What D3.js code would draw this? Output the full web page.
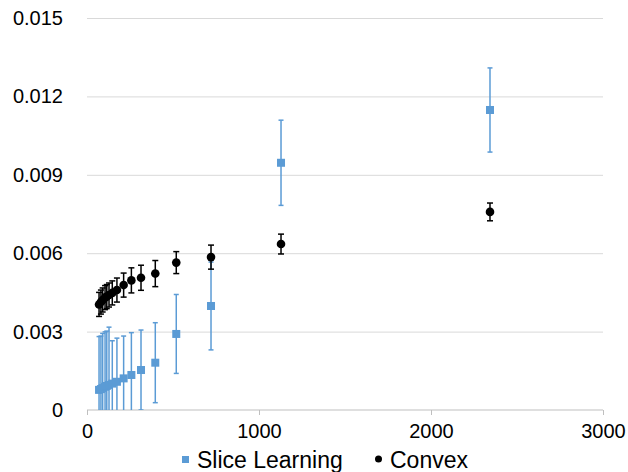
<!DOCTYPE html>
<html><head><meta charset="utf-8">
<script src="https://cdn.jsdelivr.net/npm/d3@7"></script>
<style>html,body{margin:0;padding:0;background:#fff;}svg{display:block;}</style>
</head><body>
<svg id="chart" width="628" height="472"></svg>
<script>
const sizes = [70, 81, 91, 105, 115, 128, 147, 174, 213, 258, 314, 397, 519, 721, 1128, 2343];
const sliceMean = [0.00077,0.00080,0.00084,0.00089,0.00092,0.00096,0.00101,0.00108,0.00121,0.00134,0.00153,0.00181,0.00291,0.00398,0.00946,0.01148];
const sliceErr  = [0.00204,0.00203,0.00209,0.00210,0.00210,0.00221,0.00164,0.00167,0.00162,0.00162,0.00153,0.00153,0.00151,0.00168,0.00163,0.00161];
const convexMean = [0.00404,0.00413,0.00421,0.00430,0.00434,0.00440,0.00448,0.00459,0.00478,0.00496,0.00506,0.00522,0.00564,0.00585,0.00635,0.00758];
const convexErr  = [0.00046,0.00046,0.00046,0.00046,0.00046,0.00046,0.00046,0.00046,0.00046,0.00048,0.00048,0.00050,0.00042,0.00046,0.00038,0.00034];
const yTicks = [0, 0.003, 0.006, 0.009, 0.012, 0.015];
const yTickLabels = ["0", "0.003", "0.006", "0.009", "0.012", "0.015"];
const xTicks = [0, 1000, 2000, 3000];
const seriesNames = ["Slice Learning", "Convex"];

const W = 628, H = 472;
const m = {left: 87, right: 25, top: 18, bottom: 62};
const svg = d3.select("#chart");
const font = "'Liberation Sans', Arial, Helvetica, sans-serif";

const x = d3.scaleLinear().domain([0, 3000]).range([m.left, W - m.right]);
const y = d3.scaleLinear().domain([0, 0.015]).range([H - m.bottom, m.top]);

svg.append("defs").append("clipPath").attr("id", "plot")
  .append("rect").attr("x", m.left - 10).attr("y", m.top).attr("width", W - m.left - m.right + 20).attr("height", H - m.top - m.bottom);

// gridlines
const yAxis = d3.axisLeft(y).tickValues(yTicks).tickSize(-(W - m.left - m.right)).tickPadding(24)
  .tickFormat((d, i) => yTickLabels[i]);
const gy = svg.append("g").attr("transform", `translate(${m.left},0)`).call(yAxis);
gy.select(".domain").remove();
gy.selectAll(".tick line").attr("stroke", "#d9d9d9").attr("stroke-width", 1)
  .filter(d => d === 0).remove();
gy.selectAll(".tick text").attr("font-family", font).attr("font-size", 20).attr("fill", "#000");

// x axis
const xAxis = d3.axisBottom(x).tickValues(xTicks).tickSize(5).tickPadding(9).tickFormat(d3.format("d"));
const gx = svg.append("g").attr("transform", `translate(0,${y(0)})`).call(xAxis);
gx.select(".domain").attr("stroke", "#bfbfbf").attr("d", `M${x(0)},0H${x(3000)}`);
gx.selectAll(".tick line").attr("stroke", "#bfbfbf");
gx.selectAll(".tick text").attr("font-family", font).attr("font-size", 20).attr("fill", "#000");

const plot = svg.append("g").attr("clip-path", "url(#plot)");

function drawSeries(means, errs, color, capW, sw, markerFn) {
  const g = plot.append("g");
  const data = sizes.map((s, i) => ({x: s, m: means[i], e: errs[i]}));
  g.selectAll("line.bar").data(data).join("line")
    .attr("x1", d => x(d.x)).attr("x2", d => x(d.x))
    .attr("y1", d => y(d.m - d.e)).attr("y2", d => y(d.m + d.e))
    .attr("stroke", color).attr("stroke-width", sw);
  g.selectAll("line.capT").data(data).join("line")
    .attr("x1", d => x(d.x) - capW / 2).attr("x2", d => x(d.x) + capW / 2)
    .attr("y1", d => y(d.m + d.e)).attr("y2", d => y(d.m + d.e))
    .attr("stroke", color).attr("stroke-width", sw);
  g.selectAll("line.capB").data(data).join("line")
    .attr("x1", d => x(d.x) - capW / 2).attr("x2", d => x(d.x) + capW / 2)
    .attr("y1", d => y(d.m - d.e)).attr("y2", d => y(d.m - d.e))
    .attr("stroke", color).attr("stroke-width", sw);
  markerFn(g, data);
}

drawSeries(sliceMean, sliceErr, "#5b9bd5", 5, 1.5, (g, data) => {
  g.selectAll("rect.pt").data(data).join("rect")
    .attr("x", d => x(d.x) - 4).attr("y", d => y(d.m) - 4)
    .attr("width", 8).attr("height", 8).attr("fill", "#5b9bd5");
});
drawSeries(convexMean, convexErr, "#000", 6, 1.5, (g, data) => {
  g.selectAll("circle.pt").data(data).join("circle")
    .attr("cx", d => x(d.x)).attr("cy", d => y(d.m)).attr("r", 4.3).attr("fill", "#000");
});

// legend
const lg = svg.append("g").attr("font-family", font).attr("font-size", 23);
lg.append("rect").attr("x", 182).attr("y", 456).attr("width", 7).attr("height", 7).attr("fill", "#5b9bd5");
lg.append("text").attr("x", 197).attr("y", 468).text(seriesNames[0]);
lg.append("circle").attr("cx", 378.5).attr("cy", 459).attr("r", 3.5).attr("fill", "#000");
lg.append("text").attr("x", 390).attr("y", 468).text(seriesNames[1]);
</script>
</body></html>
